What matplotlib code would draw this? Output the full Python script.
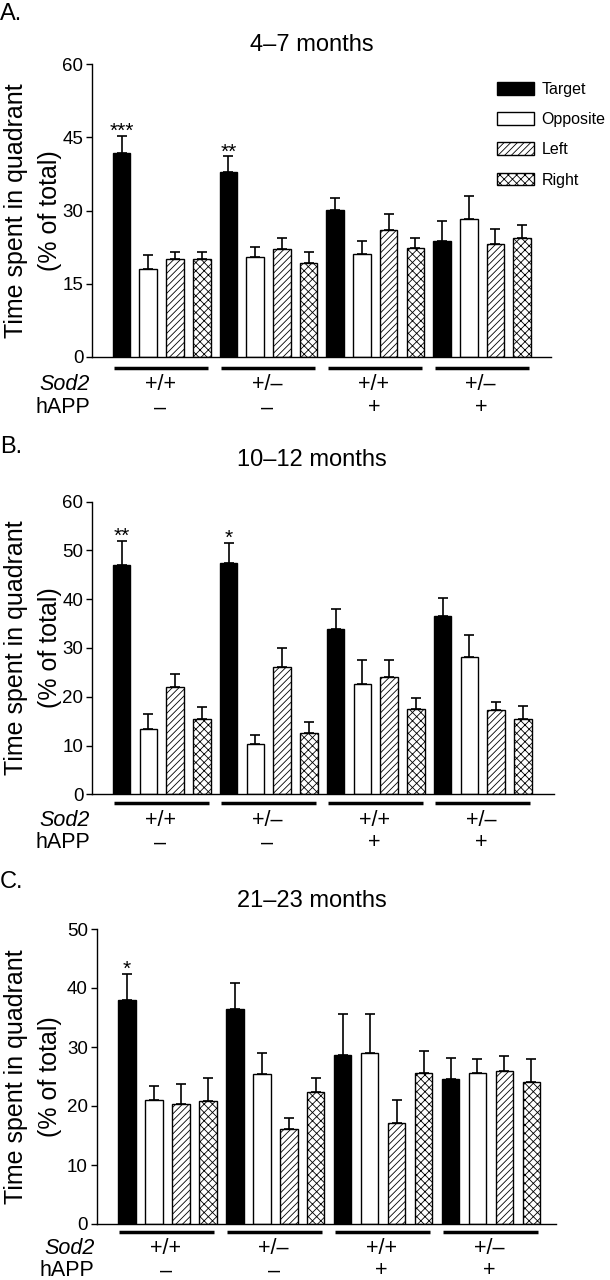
import matplotlib
matplotlib.use("Agg")
import matplotlib.pyplot as plt
import numpy as np
from matplotlib.patches import Patch

plt.rcParams['font.family'] = ['Liberation Sans', 'DejaVu Sans']
plt.rcParams['hatch.linewidth'] = 0.6

quadrants = ["Target", "Opposite", "Left", "Right"]
sod2_labels = ["+/+", "+/\u2013", "+/+", "+/\u2013"]
happ_labels = ["\u2013", "\u2013", "+", "+"]

# mean per genotype group, columns = Target, Opposite, Left, Right
a_mean = [[41.9, 17.9, 20.0, 20.0], [37.9, 20.5, 22.0, 19.2],
          [30.1, 21.0, 26.0, 22.3], [23.8, 28.3, 23.2, 24.4]]
a_sem = [[3.4, 3.0, 1.5, 1.5], [3.2, 2.0, 2.3, 2.3],
         [2.5, 2.7, 3.2, 2.1], [4.1, 4.7, 3.0, 2.7]]
b_mean = [[47.0, 13.4, 22.0, 15.4], [47.4, 10.4, 26.1, 12.6],
          [33.8, 22.6, 24.0, 17.5], [36.6, 28.2, 17.2, 15.4]]
b_sem = [[5.0, 3.1, 2.6, 2.6], [4.2, 1.8, 3.8, 2.3],
         [4.1, 4.9, 3.5, 2.3], [3.6, 4.4, 1.7, 2.8]]
c_mean = [[38.0, 21.0, 20.4, 20.8], [36.4, 25.4, 16.1, 22.4],
          [28.6, 28.9, 17.2, 25.6], [24.6, 25.6, 25.9, 24.1]]
c_sem = [[4.4, 2.4, 3.4, 3.9], [4.4, 3.6, 1.8, 2.4],
         [7.0, 6.7, 3.9, 3.7], [3.6, 2.3, 2.6, 3.8]]

a_stars = {0: "***", 4: "**"}
b_stars = {0: "**", 4: "*"}
c_stars = {0: "*"}

colors = ["black", "white", "white", "white"]
hatches = [None, None, "/////", "xxxx"]

W, H = 610, 1280
fig = plt.figure(figsize=(W / 100, H / 100), dpi=100)

# panel: (letter, title, mean, sem, stars, yticks, axes px box, xlim, label offsets px)
panels = [
    ("A.", "4\u20137 months", a_mean, a_sem, a_stars, [0, 15, 30, 45, 60],
     (92.2, 550.5, 64.3, 356.7), (-1.10, 16.06), (11, 28, 51), 14, 45),
    ("B.", "10\u201312 months", b_mean, b_sem, b_stars, [0, 10, 20, 30, 40, 50, 60],
     (92.2, 554.4, 501.7, 794.3), (-1.10, 16.18), (9, 26, 48.5), 447, 460),
    ("C.", "21\u201323 months", c_mean, c_sem, c_stars, [0, 10, 20, 30, 40, 50],
     (96.5, 556.0, 929.0, 1224.0), (-1.12, 15.91), (8, 25, 47), 882, 901),
]

for letter, title, mean, sem, stars, yticks, box, xlim, offs, ly, ty in panels:
    x0, x1, ytop, ybot = box
    ax = fig.add_axes([x0 / W, 1 - ybot / H, (x1 - x0) / W, (ybot - ytop) / H])
    mean = np.array(mean)
    sem = np.array(sem)
    for q in range(4):
        xs = np.arange(4) * 4 + q
        ax.bar(xs, mean[:, q], width=0.66, color=colors[q], edgecolor="black",
               linewidth=1.0, hatch=hatches[q], zorder=2)
        ax.errorbar(xs, mean[:, q], yerr=[np.zeros(4), sem[:, q]], fmt="none",
                    ecolor="black", elinewidth=1.2, capsize=3.6, capthick=1.2,
                    zorder=1)
    flat_mean = mean.flatten()
    flat_sem = sem.flatten()
    for i, s in stars.items():
        ax.annotate(s, (i, flat_mean[i] + flat_sem[i]), xytext=(0, -1),
                    textcoords="offset points", ha="center", va="baseline",
                    fontsize=15)

    ax.set_xlim(*xlim)
    ax.set_ylim(yticks[0], yticks[-1])
    ax.set_yticks(yticks)
    ax.set_xticks([])
    ax.tick_params(axis="y", length=4.3, width=1.0, pad=2, labelsize=13.5)
    for side in ["top", "right"]:
        ax.spines[side].set_visible(False)
    ax.spines["left"].set_linewidth(1.0)
    ax.spines["bottom"].set_linewidth(1.0)

    ah = ybot - ytop
    trans = ax.get_xaxis_transform()
    for g in range(4):
        ax.plot([4 * g - 0.27, 4 * g + 3.25], [-offs[0] / ah] * 2, color="black",
                lw=2.5, solid_capstyle="butt", transform=trans, clip_on=False)
        gx = 4 * g + 1.5 - 0.05
        ax.text(gx, -offs[1] / ah, sod2_labels[g], ha="center", va="center",
                fontsize=15.5, transform=trans)
        ax.text(gx, -offs[2] / ah, happ_labels[g], ha="center", va="center",
                fontsize=15.5, transform=trans)
    ax.text(-2 / (x1 - x0), -offs[1] / ah, "Sod2", style="italic", ha="right",
            va="center", fontsize=15.5, transform=ax.transAxes)
    ax.text(-2 / (x1 - x0), -offs[2] / ah, "hAPP", ha="right", va="center",
            fontsize=15.5, transform=ax.transAxes)

    ym = (ytop + ybot) / 2
    fig.text(16 / W, 1 - ym / H, "Time spent in quadrant", rotation=90,
             ha="center", va="center", fontsize=18)
    fig.text(50 / W, 1 - ym / H, "(% of total)", rotation=90,
             ha="center", va="center", fontsize=18)
    fig.text(0, 1 - ly / H, letter, ha="left", va="center", fontsize=17)
    fig.text(312 / W, 1 - ty / H, title, ha="center", va="center", fontsize=17)

    if letter == "A.":
        handles = [Patch(facecolor=colors[q], edgecolor="black", hatch=hatches[q],
                         linewidth=1.0) for q in range(4)]
        ax.legend(handles, quadrants, loc="upper left",
                  bbox_to_anchor=(497 / W, 1 - 82 / H), bbox_transform=fig.transFigure,
                  frameon=False, fontsize=11.5, handlelength=2.3, handleheight=0.85,
                  handletextpad=0.5, labelspacing=0.95, borderpad=0,
                  borderaxespad=0)

fig.savefig("out.png", dpi=100)
